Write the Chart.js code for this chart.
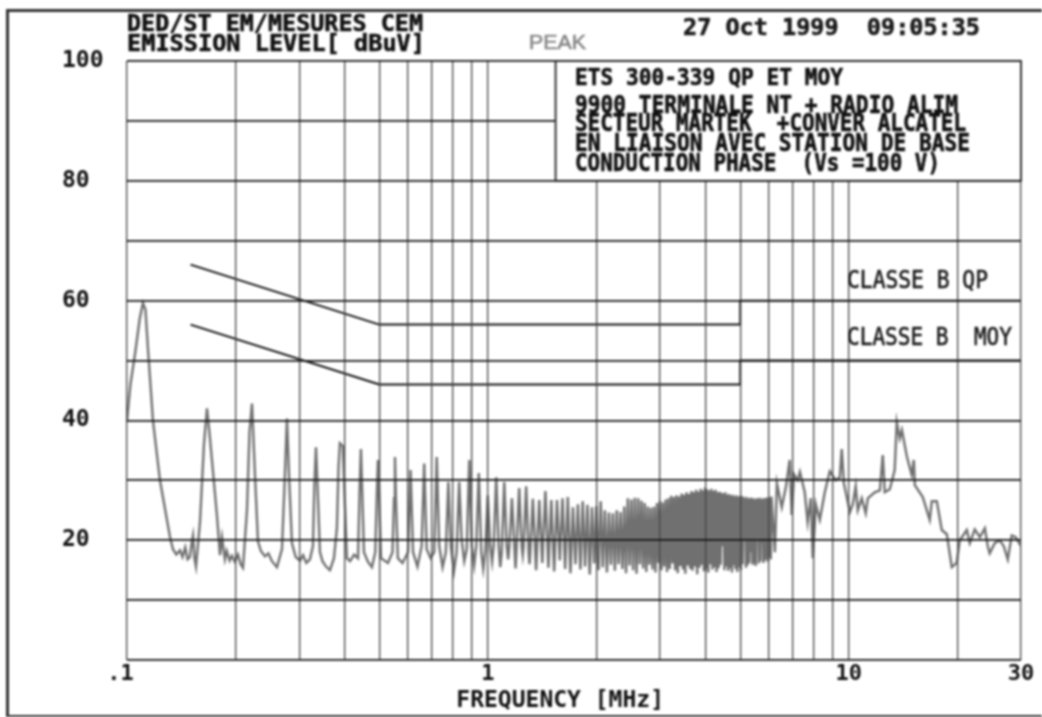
<!DOCTYPE html>
<html>
<head>
<meta charset="utf-8">
<title>EMISSION LEVEL</title>
<script src="https://cdn.jsdelivr.net/npm/chart.js@4"></script>
<style>
    html, body { margin: 0; padding: 0; background: #fff; overflow: hidden; }
    #wrap { position: relative; width: 1042px; height: 717px; overflow: hidden; filter: blur(0.8px); }
    #plot { position: absolute; left: 0; top: 0; }
    #frame { position: absolute; left: 6px; top: 9px; width: 1060px; height: 703px; border: 3px solid #333; }
</style>
</head>
<body>
<div id="wrap">
    <canvas id="plot" width="1042" height="717"></canvas>
    <div id="frame"></div>
</div>
<script>
// first harmonics, single peaks over a noisy floor
const lowFreq = [.100, .1022, .1052, .1085, .1107, .1125, .1143, .118, .1234, .1316,
    .1341, .137, .1402, .1425, .145, .1472, .1494, .1510, .1524, .1538,
    .1553, .1593, .1634, .1666, .1698, .1776, .181, .1833, .1868, .189,
    .1925, .1953, .199, .203, .2065, .2096, .215, .2185, .222, .2262,
    .2306, .235, .2411, .2465, .2522, .2603, .2688, .2735, .2775, .2815,
    .2865, .2935, .3015, .3075, .3140, .3213, .3275, .3305, .3339, .3372,
    .3425, .348, .356, .365, .3745, .3816, .3855, .389, .3965, .4005,
    .4067, .415, .426, .4365, .441, .4448, .4485, .4535, .465, .4771,
    .4875, .4925, .4959, .4995, .5055, .5285, .544, .5495, .5527, .556, .563];
const lowLevel = [40, 46, 51, 57, 59.6, 58.5, 52, 40, 30, 20.5,
    18.5, 17.6, 18.3, 17.2, 18.8, 16.8, 17.2, 19.5, 20.8, 17,
    15.6, 23, 36, 42, 37, 24, 17.5, 20.5, 16.8, 18.2,
    16.6, 17.4, 16.4, 17.6, 16, 15.4, 25, 38, 42.8, 31,
    19.8, 18.2, 17.3, 17.8, 16.5, 15.5, 18.5, 30, 40.3, 30,
    19.5, 17.2, 16.6, 17.5, 16.2, 16.8, 19, 29, 35.5, 29,
    18, 16.5, 15.6, 15, 17, 22, 32, 36.2, 35.7, 28,
    17, 16.5, 17.6, 17, 28, 35.2, 28, 18, 16.4, 15.5,
    18, 28, 33.4, 28, 17, 16.2, 18, 27, 33.9, 27, 17];

// harmonics still apart: valley, foot, peak, foot
const midFreq = [.580, .6007, .6105, .6203,
    .638, .6553, .666, .6767,
    .694, .7100, .7215, .7330,
    .749, .7646, .777, .7894,
    .805, .8192, .8325, .8458,
    .860, .8738, .888, .9022,
    .916, .9284, .9435, .9586,
    .971, .983, .999, 1.015,
    1.027, 1.0376, 1.0545, 1.0714,
    1.082, 1.0922, 1.11, 1.1278,
    1.138, 1.1469, 1.1655, 1.1841,
    1.193, 1.2015, 1.221, 1.2405,
    1.249, 1.2561, 1.2765, 1.2969,
    1.304, 1.3107, 1.332, 1.3533];
const midLevel = [16.2, 18, 31.7, 18,
    15.6, 19, 32.8, 18.5,
    17, 18, 33.9, 19,
    15.5, 18, 29.7, 19,
    14.8, 18, 29.7, 20,
    16.5, 18.5, 33.4, 19,
    15.8, 19, 31.2, 18,
    15.2, 18, 27.5, 19,
    16.4, 19, 30.5, 19,
    15.5, 18, 29.7, 19,
    16.8, 19, 27, 19,
    15.3, 19, 28.7, 19,
    17.5, 19, 29, 18,
    16, 18, 26.9, 18];

// dense comb, valley then peak
const combFreq = [1.36, 1.3875, 1.415, 1.443,
    1.471, 1.4985, 1.526, 1.554, 1.582, 1.6095, 1.637, 1.665, 1.693, 1.7205, 1.748, 1.776, 1.804, 1.8315, 1.859, 1.887,
    1.915, 1.9425, 1.97, 1.998, 2.026, 2.0535, 2.081, 2.109, 2.137, 2.1645, 2.192, 2.22, 2.248, 2.2755, 2.303, 2.331,
    2.359, 2.3865, 2.414, 2.442, 2.47, 2.4975, 2.525, 2.553, 2.581, 2.6085, 2.636, 2.664, 2.692, 2.7195, 2.747, 2.775,
    2.803, 2.8305, 2.858, 2.886, 2.914, 2.9415, 2.969, 2.997, 3.025, 3.0525, 3.08, 3.108, 3.136, 3.1635, 3.191, 3.219,
    3.247, 3.2745, 3.302, 3.33, 3.358, 3.3855, 3.413, 3.441, 3.469, 3.4965, 3.524, 3.552, 3.58, 3.6075, 3.635, 3.663,
    3.691, 3.7185, 3.746, 3.774, 3.802, 3.8295, 3.857, 3.885, 3.913, 3.9405, 3.968, 3.996, 4.024, 4.0515, 4.079, 4.107,
    4.135, 4.1625, 4.19, 4.218, 4.246, 4.2735, 4.301, 4.329, 4.357, 4.3845, 4.412, 4.44, 4.468, 4.4955, 4.523, 4.551,
    4.579, 4.6065, 4.634, 4.662, 4.69, 4.7175, 4.745, 4.773, 4.801, 4.8285, 4.856, 4.884, 4.912, 4.9395, 4.967, 4.995,
    5.023, 5.0505, 5.078, 5.106, 5.134, 5.1615, 5.189, 5.217, 5.245, 5.2725, 5.3, 5.328, 5.356, 5.3835, 5.411, 5.439,
    5.467, 5.4945, 5.522, 5.55, 5.578, 5.6055, 5.633, 5.661, 5.689, 5.7165, 5.744, 5.772, 5.8, 5.8275, 5.855, 5.883,
    5.911, 5.9385, 5.966, 5.994, 6.022, 6.0495, 6.077, 6.105];
const combLevel = [15, 26.7, 16.2, 28.2,
    15.4, 26.7, 14.8, 26.7, 16.6, 27, 15.2, 27.2, 14.5, 25.5, 16, 26, 15.1, 26.5, 15.6, 25.9,
    14.3, 25.5, 16.1, 25.7, 15, 26.5, 15.5, 25, 14.6, 24.6, 15.9, 24.5, 14.9, 25, 16, 24.7,
    15.2, 25.6, 14.5, 27, 15.8, 26.8, 15, 27.1, 14.4, 27, 16, 26.6, 15.3, 26.2, 14.7, 25.6,
    15.9, 25.4, 15.1, 25.6, 14.6, 26.2, 16.2, 26.6, 15, 26.3, 15.6, 26.8, 14.7, 27, 15.2, 27.4,
    16.1, 27.2, 15, 27.5, 14.5, 27.3, 15.7, 27.8, 15.1, 27.6, 14.4, 28, 15.8, 27.7, 15.2, 28.2,
    14.9, 28, 15.6, 28.4, 14.3, 28.1, 15.4, 28.6, 15.9, 28.3, 14.8, 28.8, 15.2, 28.5, 14.6, 28.3,
    16, 28.6, 15.1, 28.2, 15.5, 28.4, 14.7, 28, 15.3, 28.1, 15.9, 27.9, 19, 27.8, 15, 28,
    15.6, 27.6, 14.9, 27.7, 15.3, 27.4, 14.6, 27.6, 15.8, 27.3, 15.2, 27.5, 14.7, 27.2, 15.5, 27.4,
    15, 27.1, 16, 27.3, 20, 27, 15.4, 27.2, 15.8, 26.9, 16.2, 27.1, 18, 26.8, 15.9, 27,
    16.3, 26.8, 15.7, 27, 21, 26.9, 16.1, 27.1, 16.5, 26.8, 19.5, 27, 16.2, 26.9, 16.6, 27.1,
    16.9, 27, 16.4, 27.2, 17.2, 27, 16.8, 27.3];

// above the comb the trace is a rough single line
const highFreq = [6.24, 6.32, 6.52, 6.7, 6.86, 6.95, 7.05, 7.22, 7.32, 7.55, 7.69, 7.85, 7.95, 8.1, 8.31, 8.58, 8.86, 9.2, 9.44, 9.56, 9.69, 10.07, 10.26, 10.45, 10.59, 10.86, 11.14, 11.29, 11.8, 12.19, 12.42, 12.58, 12.99, 13.4, 13.58, 13.84, 14.03, 14.48, 14.94, 15.14, 15.24, 16.03, 16.76, 16.98, 17.53, 18.1, 18.69, 19.29, 19.9, 20.3, 21.23, 21.64, 22.34, 23.07, 23.82, 24.27, 24.57, 25.37, 26.19, 26.88, 27.57, 28.28, 29, 30];
const highLevel = [18, 29.5, 25.5, 29, 33.4, 24.2, 31, 30, 31.4, 28, 23, 27, 17, 26, 23.4, 28, 31.5, 30, 30.5, 35.2, 29.5, 24.7, 26, 29, 25, 27, 24.5, 27, 28, 28.3, 34.2, 28, 28.5, 31.7, 39.7, 37, 38.4, 34, 30.9, 33.4, 29.2, 27.2, 23.4, 26.5, 26.5, 21.7, 21, 15.5, 16.2, 20, 21.7, 19.5, 21.8, 20.5, 22, 19, 17.8, 19.5, 20, 19, 16.8, 20.8, 20.5, 19];

// CLASSE B limits
const qpFreq = [.15, .5, 5, 5, 30];
const qpLevel = [66, 56, 56, 60, 60];
const moyFreq = [.15, .5, 5, 5, 30];
const moyLevel = [56, 46, 46, 50, 50];

const gridFreq = [.1, .2, .3, .4, .5, .6, .7, .8, .9, 1, 2, 3, 4, 5, 6, 7, 8, 9, 10, 20, 30];
const freqLabels = [.1, 1, 10, 30];
const headerText = ["DED/ST EM/MESURES CEM", "EMISSION LEVEL[ dBuV]", "27 Oct 1999  09:05:35", "PEAK"];
const noteText = ["ETS 300-339 QP ET MOY", "9900 TERMINALE NT + RADIO ALIM", "SECTEUR MARTEK  +CONVER ALCATEL", "EN LIAISON AVEC STATION DE BASE", "CONDUCTION PHASE  (Vs =100 V)"];
const limitText = ["CLASSE B QP", "CLASSE B  MOY"];

const plotFont = '"DejaVu Sans Mono"';

function toPoints(xs, ys) {
    return xs.map((x, i) => ({ x: x, y: ys[i] }));
}

// plotter lettering has its own proportions, so squeeze it into the width
function plotText(ctx, text, x, y, width, font, color) {
    ctx.save();
    ctx.font = font;
    ctx.fillStyle = color;
    ctx.strokeStyle = color;
    ctx.lineWidth = 0.6;
    ctx.textBaseline = "middle";
    ctx.textAlign = "left";
    const w = ctx.measureText(text).width;
    ctx.translate(x, y);
    ctx.scale(width / w, 1);
    ctx.fillText(text, 0, 0);
    ctx.strokeText(text, 0, 0);
    ctx.restore();
}

// drawn last: the grid sits on top of the trace, but not inside this box
const legendBox = {
    id: "legendBox",
    afterDraw(chart) {
        const { ctx, scales } = chart;
        const left = scales.x.getPixelForValue(1.54);
        const right = scales.x.getPixelForValue(30);
        const top = scales.y.getPixelForValue(100);
        const bottom = scales.y.getPixelForValue(80);
        ctx.save();
        ctx.fillStyle = "#fff";
        ctx.fillRect(left, top, right - left, bottom - top);
        ctx.strokeStyle = "#222";
        ctx.lineWidth = 1.8;
        ctx.strokeRect(left, top, right - left, bottom - top);
        ctx.restore();

        const head = "bold 23px " + plotFont;
        const note = "bold 24px " + plotFont;
        plotText(ctx, headerText[0], 127, 25, 296, head, "#111");
        plotText(ctx, headerText[1], 127, 45, 298, head, "#111");
        plotText(ctx, headerText[2], 683, 29, 297, head, "#1a1a1a");
        plotText(ctx, headerText[3], 529, 43, 57, '20px "Liberation Sans"', "#888");
        plotText(ctx, noteText[0], 575, 79, 268, "bold 23px " + plotFont, "#111");
        plotText(ctx, noteText[1], 575, 107, 383, note, "#111");
        plotText(ctx, noteText[2], 575, 125, 391, note, "#111");
        plotText(ctx, noteText[3], 575, 145, 395, note, "#111");
        plotText(ctx, noteText[4], 575, 165, 365, note, "#111");
        plotText(ctx, limitText[0], 847, 282, 141, "24px " + plotFont, "#1a1a1a");
        plotText(ctx, limitText[1], 847, 339, 165, "24px " + plotFont, "#1a1a1a");
    }
};

function renderChart() {
    const canvas = document.getElementById("plot");
    const trace = toPoints(lowFreq, lowLevel)
        .concat(toPoints(midFreq, midLevel))
        .concat(toPoints(combFreq, combLevel))
        .concat(toPoints(highFreq, highLevel));

    new Chart(canvas, {
        type: "scatter",
        data: {
            datasets: [
                { label: "PEAK", data: trace, showLine: true, borderColor: "#707070", borderWidth: 2.4, pointRadius: 0, tension: 0 },
                { label: "CLASSE B QP", data: toPoints(qpFreq, qpLevel), showLine: true, borderColor: "#111", borderWidth: 1.9, pointRadius: 0 },
                { label: "CLASSE B MOY", data: toPoints(moyFreq, moyLevel), showLine: true, borderColor: "#111", borderWidth: 1.9, pointRadius: 0 }
            ]
        },
        options: {
            responsive: false,
            animation: false,
            layout: { padding: { left: 62, right: 21, top: 61, bottom: 0 } },
            plugins: { legend: { display: false }, tooltip: { enabled: false } },
            scales: {
                x: {
                    type: "logarithmic",
                    min: 0.1,
                    max: 30,
                    afterFit: s => { s.height = 57; },
                    afterBuildTicks: s => { s.ticks = gridFreq.map(f => ({ value: f })); },
                    grid: { color: "#444", lineWidth: 1.3, drawTicks: false, z: 1 },
                    border: { display: false },
                    ticks: {
                        autoSkip: false,
                        maxRotation: 0,
                        padding: 1,
                        color: "#111",
                        font: { family: plotFont, weight: "bold", size: 22 },
                        callback: v => {
                            const hit = freqLabels.find(f => Math.abs(f - v) < f * 0.01);
                            if (hit === undefined) return "";
                            return hit < 1 ? ".1 " : String(hit);
                        }
                    },
                    title: {
                        display: true,
                        text: "FREQUENCY [MHz]  ",
                        color: "#111",
                        font: { family: plotFont, weight: "bold", size: 23 },
                        padding: { top: 0, bottom: 2 }
                    }
                },
                y: {
                    min: 0,
                    max: 100,
                    afterFit: s => { s.width = 65; },
                    grid: { color: "#161616", lineWidth: 1.7, drawTicks: false, z: 1 },
                    border: { display: false },
                    ticks: {
                        stepSize: 10,
                        padding: 22,
                        crossAlign: "far",
                        color: "#111",
                        font: { family: plotFont, weight: "bold", size: 23 },
                        callback: v => (v % 20 === 0 && v > 0 ? String(v) : "")
                    }
                }
            }
        },
        plugins: [legendBox]
    });
}

renderChart();
</script>
</body>
</html>
